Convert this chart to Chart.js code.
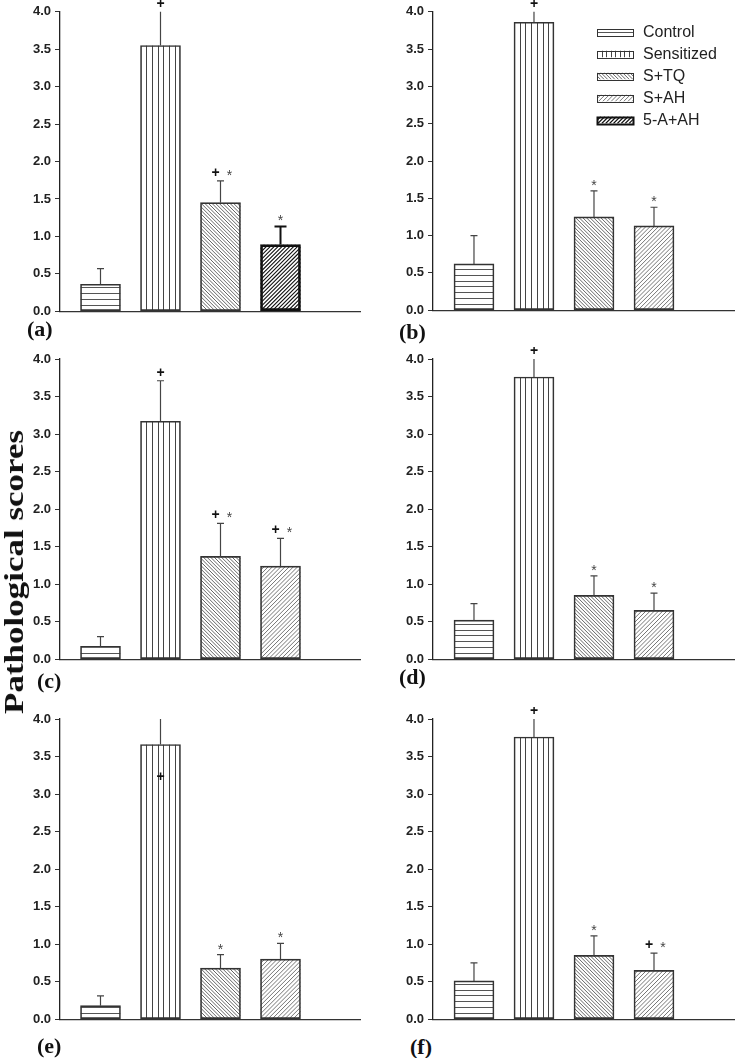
<!DOCTYPE html>
<html><head><meta charset="utf-8">
<script src="https://cdn.jsdelivr.net/npm/chart.js@4.4.1/dist/chart.umd.min.js"></script>
<style>
body{margin:0;background:#fff;width:735px;height:1058px;position:relative;overflow:hidden}
canvas{position:absolute}
.lbl{position:absolute;font:bold 22px "Liberation Serif","Times New Roman",serif;line-height:22px;color:#111;white-space:nowrap}
.ytitle{position:absolute;font:bold 28px "Liberation Serif","Times New Roman",serif;color:#111;white-space:nowrap;transform:translate(-50%,-50%) rotate(-90deg) scale(1.25,1);line-height:28px}
</style></head><body>
<script>
// ---------- data ----------
const categories = ['Control', 'Sensitized', 'S+TQ', 'S+AH', '5-A+AH'];
const yTickLabels = ['0.0', '0.5', '1.0', '1.5', '2.0', '2.5', '3.0', '3.5', '4.0'];
const panelLabels = ['(a)', '(b)', '(c)', '(d)', '(e)', '(f)'];
const axisTitle = 'Pathological scores';

const groupsA = ['Control', 'Sensitized', 'S+TQ', '5-A+AH'];
const groupsBF = ['Control', 'Sensitized', 'S+TQ', 'S+AH'];

const meansA = [0.36, 3.55, 1.45, 0.89];
const semA   = [0.21, 0.50, 0.29, 0.24];
const marksA = ['', '+', '+*', '*'];

const meansB = [0.62, 3.86, 1.25, 1.13];
const semB   = [0.38, 0.16, 0.35, 0.25];
const marksB = ['', '+', '*', '*'];

const meansC = [0.17, 3.17, 1.37, 1.24];
const semC   = [0.13, 0.54, 0.44, 0.37];
const marksC = ['', '+', '+*', '+*'];

const meansD = [0.52, 3.76, 0.85, 0.65];
const semD   = [0.22, 0.30, 0.26, 0.23];
const marksD = ['', '+', '*', '*'];

const meansE = [0.18, 3.66, 0.68, 0.80];
const semE   = [0.13, 0.40, 0.18, 0.21];
const marksE = ['', '+', '*', '*'];
const markAtE = [null, 3.23, null, null];

const meansF = [0.51, 3.76, 0.85, 0.65];
const semF   = [0.24, 0.30, 0.26, 0.23];
const marksF = ['', '+', '*', '+*'];

// ---------- styling ----------
const hatchKind = {'Control':'h', 'Sensitized':'v', 'S+TQ':'bs', 'S+AH':'fs', '5-A+AH':'fsb'};
const SANS = '"Liberation Sans", Arial, sans-serif';

function hatch(ctx, kind, x0, y0, x1, y1, legend) {
  ctx.save();
  ctx.beginPath(); ctx.rect(x0, y0, x1 - x0, y1 - y0); ctx.clip();
  ctx.beginPath();
  const h = y1 - y0;
  if (kind === 'h') {
    const step = legend ? (y1 - y0) / 2 : 5.8;
    for (let y = y1 - step; y > y0 + 1; y -= step) {
      const yy = Math.round(y) + 0.5;
      ctx.moveTo(x0, yy); ctx.lineTo(x1, yy);
    }
    ctx.strokeStyle = '#555'; ctx.lineWidth = 1;
  } else if (kind === 'v') {
    const n = legend ? 8 : 7;
    const step = (x1 - x0) / n;
    for (let k = 1; k < n; k++) {
      const xx = Math.round(x0 + k * step) + 0.5;
      ctx.moveTo(xx, y0); ctx.lineTo(xx, y1);
    }
    ctx.strokeStyle = '#444'; ctx.lineWidth = 1;
  } else if (kind === 'bs') {
    const step = 3.6;
    for (let c = x0 - h; c < x1 + step; c += step) {
      ctx.moveTo(c, y0); ctx.lineTo(c + h, y1);
    }
    ctx.strokeStyle = '#555'; ctx.lineWidth = 0.9;
  } else if (kind === 'fs') {
    const step = 4.2;
    for (let c = x0 - h; c < x1 + step; c += step) {
      ctx.moveTo(c, y1); ctx.lineTo(c + h, y0);
    }
    ctx.strokeStyle = '#666'; ctx.lineWidth = 0.9;
  } else if (kind === 'fsb') {
    const step = 3.9;
    for (let c = x0 - h; c < x1 + step; c += step) {
      ctx.moveTo(c, y1); ctx.lineTo(c + h, y0);
    }
    ctx.strokeStyle = '#111'; ctx.lineWidth = 1.1;
  }
  ctx.stroke();
  ctx.restore();
}

const hatchPlugin = {
  id: 'hatch',
  beforeDatasetsDraw(chart) {
    const info = chart.canvas.$info;
    if (!info) return;
    const ctx = chart.ctx;
    const meta = chart.getDatasetMeta(0);
    meta.data.forEach((el, i) => {
      const p = el.getProps(['x', 'y', 'base', 'width'], true);
      hatch(ctx, hatchKind[info.groups[i]], p.x - p.width / 2, p.y, p.x + p.width / 2, p.base, false);
    });
  },
  afterDatasetsDraw(chart) {
    const info = chart.canvas.$info;
    if (!info) return;
    const ctx = chart.ctx;
    const meta = chart.getDatasetMeta(0);
    const ys = chart.scales.y;
    const area = chart.chartArea;
    const {means, sem, marks, markAt, groups} = info;
    // error bars
    ctx.save();
    ctx.beginPath(); ctx.rect(area.left - 20, area.top, area.right - area.left + 40, area.bottom - area.top); ctx.clip();
    meta.data.forEach((el, i) => {
      const p = el.getProps(['x', 'y'], true);
      const bold = groups[i] === '5-A+AH';
      const yTop = ys.getPixelForValue(means[i] + sem[i]);
      const cap = bold ? 6 : 3.5;
      ctx.beginPath();
      ctx.moveTo(p.x, p.y); ctx.lineTo(p.x, yTop);
      ctx.moveTo(p.x - cap, yTop); ctx.lineTo(p.x + cap, yTop);
      ctx.strokeStyle = bold ? '#111' : '#444';
      ctx.lineWidth = bold ? 2 : 1.2;
      ctx.stroke();
    });
    ctx.restore();
    // significance marks
    meta.data.forEach((el, i) => {
      const m = marks[i];
      if (!m) return;
      const p = el.getProps(['x'], true);
      let y;
      if (markAt && markAt[i] != null) y = ys.getPixelForValue(markAt[i]);
      else y = ys.getPixelForValue(Math.min(means[i] + sem[i], 4)) - 8;
      const drawPlus = (x) => {
        ctx.font = 'bold 14px ' + SANS; ctx.fillStyle = '#111';
        ctx.textAlign = 'center'; ctx.textBaseline = 'middle';
        ctx.fillText('+', x, y);
      };
      const drawStar = (x) => {
        ctx.font = '14px ' + SANS; ctx.fillStyle = '#444';
        ctx.textAlign = 'center'; ctx.textBaseline = 'middle';
        ctx.fillText('*', x, y + 3);
      };
      if (m === '+*') { drawPlus(p.x - 5); drawStar(p.x + 9); }
      else if (m === '+') drawPlus(p.x);
      else if (m === '*') drawStar(p.x);
    });
    // legend
    const lg = chart.canvas.$legend;
    if (lg) {
      categories.forEach((c, k) => {
        const cy = lg.y + k * 22;
        const x0 = lg.x, x1 = lg.x + 36, y0 = cy - 3.5, y1 = cy + 3.5;
        hatch(ctx, hatchKind[c], x0, y0, x1, y1, true);
        const bold = c === '5-A+AH';
        ctx.lineWidth = bold ? 2 : 1;
        ctx.strokeStyle = bold ? '#111' : '#333';
        ctx.strokeRect(Math.round(x0) + 0.5, Math.round(y0) + 0.5, 36, 7);
        ctx.font = '16px ' + SANS; ctx.fillStyle = '#222';
        ctx.textAlign = 'left'; ctx.textBaseline = 'middle';
        ctx.fillText(c, x1 + 10, cy + 1);
      });
    }
  }
};

// ---------- layout ----------
const layout = [
  {left: 0,   top: 0,   w: 368, padTop: 11, padRight: 8, axisW: 60, xMin: 0.325, xMax: 5.325, label: [27, 330]},
  {left: 370, top: 0,   w: 365, padTop: 10, padRight: 0, axisW: 63, xMin: 0.317, xMax: 5.35,  label: [399, 333], legend: {x: 227, y: 32}},
  {left: 0,   top: 347, w: 368, padTop: 12, padRight: 8, axisW: 60, xMin: 0.325, xMax: 5.325, label: [37, 682]},
  {left: 370, top: 347, w: 365, padTop: 12, padRight: 0, axisW: 63, xMin: 0.317, xMax: 5.35,  label: [399, 678]},
  {left: 0,   top: 707, w: 368, padTop: 12, padRight: 8, axisW: 60, xMin: 0.325, xMax: 5.325, label: [37, 1047]},
  {left: 370, top: 707, w: 365, padTop: 12, padRight: 0, axisW: 63, xMin: 0.317, xMax: 5.35,  label: [410, 1048]}
];
const panelData = [
  {groups: groupsA,  means: meansA, sem: semA, marks: marksA},
  {groups: groupsBF, means: meansB, sem: semB, marks: marksB},
  {groups: groupsBF, means: meansC, sem: semC, marks: marksC},
  {groups: groupsBF, means: meansD, sem: semD, marks: marksD},
  {groups: groupsBF, means: meansE, sem: semE, marks: marksE, markAt: markAtE},
  {groups: groupsBF, means: meansF, sem: semF, marks: marksF}
];

panelData.forEach((pd, idx) => {
  const L = layout[idx];
  const cv = document.createElement('canvas');
  const H = L.padTop + 300 + 12;
  cv.width = L.w; cv.height = H;
  cv.style.left = L.left + 'px'; cv.style.top = L.top + 'px';
  cv.style.width = L.w + 'px'; cv.style.height = H + 'px';
  cv.$info = pd;
  cv.$legend = L.legend || null;
  document.body.appendChild(cv);

  new Chart(cv.getContext('2d'), {
    type: 'bar',
    data: {
      datasets: [{
        data: pd.means.map((v, i) => ({x: i + 1, y: v})),
        backgroundColor: 'rgba(0,0,0,0)',
        borderColor: pd.groups.map(g => g === '5-A+AH' ? '#111' : '#333'),
        borderWidth: pd.groups.map(g => g === '5-A+AH' ? 2 : 1),
        borderSkipped: false,
        barThickness: 40
      }]
    },
    options: {
      responsive: false,
      animation: false,
      devicePixelRatio: 1,
      layout: {padding: {top: L.padTop, right: L.padRight, bottom: 8, left: 0}},
      plugins: {legend: {display: false}, tooltip: {enabled: false}},
      scales: {
        x: {
          type: 'linear', min: L.xMin, max: L.xMax, offset: false,
          ticks: {display: false},
          grid: {display: false},
          border: {display: true, color: '#333', width: 1.3},
          afterFit(s) { s.height = 0; }
        },
        y: {
          min: 0, max: 4,
          ticks: {
            stepSize: 0.5, padding: 4, color: '#222',
            font: {family: SANS, size: 13, weight: 'bold'},
            callback: (v, i) => yTickLabels[i]
          },
          grid: {drawOnChartArea: false, drawTicks: true, tickLength: 5, color: '#333', lineWidth: 1},
          border: {display: true, color: '#222', width: 1.3},
          afterFit(s) { s.width = L.axisW; }
        }
      }
    },
    plugins: [hatchPlugin]
  });

  const lb = document.createElement('div');
  lb.className = 'lbl';
  lb.textContent = panelLabels[idx];
  lb.style.left = L.label[0] + 'px';
  lb.style.top = (L.label[1] - 12) + 'px';
  document.body.appendChild(lb);
});

const yt = document.createElement('div');
yt.className = 'ytitle';
yt.textContent = axisTitle;
yt.style.left = '14px';
yt.style.top = '572px';
document.body.appendChild(yt);
</script>
</body></html>
